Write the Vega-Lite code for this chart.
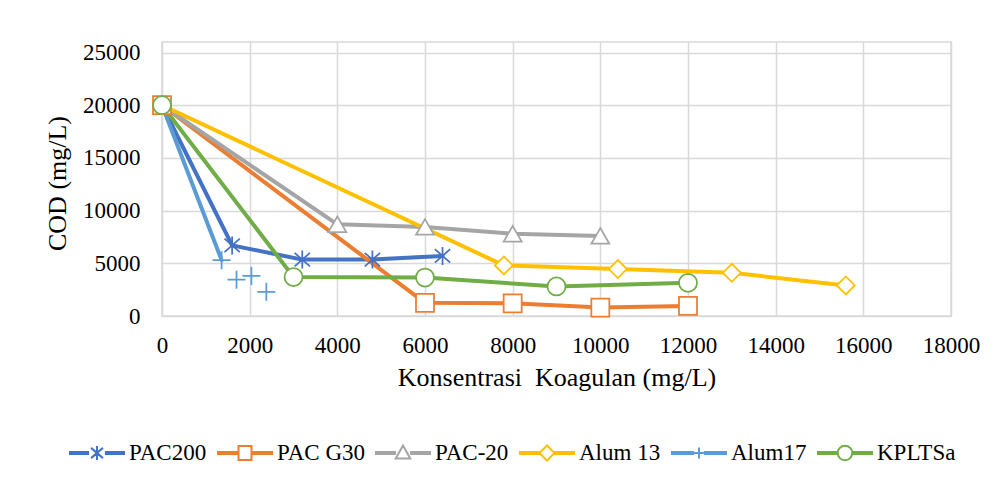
{
  "$schema": "https://vega.github.io/schema/vega-lite/v6.json",
  "width": 789,
  "height": 274,
  "autosize": {"type": "none"},
  "padding": {"left": 162, "top": 42, "right": 46, "bottom": 161},
  "background": "white",
  "data": {
    "values": [
      {"series": "PAC200", "x": 0, "y": 20000},
      {"series": "PAC200", "x": 1600, "y": 6700},
      {"series": "PAC200", "x": 3200, "y": 5350},
      {"series": "PAC200", "x": 4800, "y": 5350},
      {"series": "PAC200", "x": 6400, "y": 5700},
      {"series": "PAC G30", "x": 0, "y": 20000},
      {"series": "PAC G30", "x": 6000, "y": 1250},
      {"series": "PAC G30", "x": 8000, "y": 1200},
      {"series": "PAC G30", "x": 10000, "y": 800},
      {"series": "PAC G30", "x": 12000, "y": 950},
      {"series": "PAC-20", "x": 0, "y": 20000},
      {"series": "PAC-20", "x": 4000, "y": 8700},
      {"series": "PAC-20", "x": 6000, "y": 8450},
      {"series": "PAC-20", "x": 8000, "y": 7800},
      {"series": "PAC-20", "x": 10000, "y": 7600},
      {"series": "Alum 13", "x": 0, "y": 20000},
      {"series": "Alum 13", "x": 7800, "y": 4800},
      {"series": "Alum 13", "x": 10400, "y": 4450},
      {"series": "Alum 13", "x": 13000, "y": 4100},
      {"series": "Alum 13", "x": 15600, "y": 2900},
      {"series": "Alum17", "x": 0, "y": 20000},
      {"series": "Alum17", "x": 1360, "y": 5300},
      {"series": "Alum17", "x": 1700, "y": 3450},
      {"series": "Alum17", "x": 2040, "y": 3800},
      {"series": "Alum17", "x": 2380, "y": 2300},
      {"series": "KPLTSa", "x": 0, "y": 20000},
      {"series": "KPLTSa", "x": 3000, "y": 3700},
      {"series": "KPLTSa", "x": 6000, "y": 3650},
      {"series": "KPLTSa", "x": 9000, "y": 2800},
      {"series": "KPLTSa", "x": 12000, "y": 3150}
    ]
  },
  "resolve": {"scale": {"color": "independent", "stroke": "independent", "shape": "independent"}},
  "layer": [
    {
      "transform": [{"filter": "datum.series != 'Alum17' || datum.x < 1500"}],
      "mark": {"type": "line", "strokeWidth": 4, "strokeCap": "round", "strokeJoin": "round"},
      "encoding": {
        "x": {"field": "x", "type": "quantitative", "scale": {"domain": [0, 18000]},
          "axis": {"values": [0,2000,4000,6000,8000,10000,12000,14000,16000,18000], "format": "d", "labelOverlap": false, "labelFlush": false, "title": "Konsentrasi\u00a0 Koagulan (mg/L)", "labelPadding": 36, "labelBaseline": "alphabetic", "titleBaseline": "alphabetic", "titleY": 69}},
        "y": {"field": "y", "type": "quantitative", "scale": {"domain": [0, 25000]},
          "axis": {"values": [0,5000,10000,15000,20000,25000], "format": "d", "labelOverlap": false, "title": "COD (mg/L)", "labelPadding": 22, "titleBaseline": "alphabetic", "titleX": -97, "titleY": 141, "titleAngle": -90}},
        "color": {"field": "series", "type": "nominal",
          "scale": {"domain": ["Alum 13", "Alum17", "KPLTSa", "PAC G30", "PAC-20", "PAC200"], "range": ["#FFC000", "#5B9BD5", "#70AD47", "#ED7D31", "#A5A5A5", "#4472C4"]},
          "legend": null},
        "detail": {"field": "series"}
      }
    },
    {
      "transform": [{"filter": "datum.x > 0 || datum.series == 'PAC G30' || datum.series == 'KPLTSa'"}],
      "mark": {"type": "point", "filled": true, "fill": "white", "strokeWidth": 1.75, "size": 324, "opacity": 1},
      "encoding": {
        "x": {"field": "x", "type": "quantitative"},
        "y": {"field": "y", "type": "quantitative"},
        "stroke": {"field": "series", "type": "nominal",
          "scale": {"domain": ["PAC200", "PAC G30", "PAC-20", "Alum 13", "Alum17", "KPLTSa"], "range": ["#4472C4", "#ED7D31", "#A5A5A5", "#FFC000", "#5B9BD5", "#70AD47"]},
          "legend": null},
        "shape": {"field": "series", "type": "nominal",
          "scale": {"domain": ["PAC200", "PAC G30", "PAC-20", "Alum 13", "Alum17", "KPLTSa"],
            "range": ["M0,-1V1M-0.85,-0.75L0.85,0.75M-0.85,0.75L0.85,-0.75", "square", "triangle-up", "diamond", "M-1,0H1M0,-1V1", "circle"]},
          "legend": null}
      }
    },
    {
      "transform": [{"filter": "false"}],
      "mark": {"type": "point", "filled": true, "fill": "white", "strokeWidth": 2, "size": 2916, "opacity": 1},
      "encoding": {
        "x": {"field": "x", "type": "quantitative"},
        "y": {"field": "y", "type": "quantitative"},
        "stroke": {"field": "series", "type": "nominal",
          "scale": {"domain": ["PAC200", "PAC G30", "PAC-20", "Alum 13", "Alum17", "KPLTSa"], "range": ["#4472C4", "#ED7D31", "#A5A5A5", "#FFC000", "#5B9BD5", "#70AD47"]},
          "legend": {
            "orient": "none", "legendX": -93, "legendY": 383, "direction": "horizontal", "title": null,
            "labelFont": "Liberation Serif", "labelFontSize": 23, "labelColor": "#000", "labelOffset": 4,
            "columnPadding": 7, "padding": 0, "symbolSize": 2916, "symbolStrokeWidth": 2, "symbolFillColor": "white", "symbolOpacity": 1
          }},
        "shape": {"field": "series", "type": "nominal",
          "scale": {"domain": ["PAC200", "PAC G30", "PAC-20", "Alum 13", "Alum17", "KPLTSa"],
            "range": [
              "M-1,-0.035H-0.33V0.035H-1Z M0.33,-0.035H1V0.035H0.33Z M0,-0.26V0.26 M-0.22,-0.19L0.22,0.19 M-0.22,0.19L0.22,-0.19",
              "M-1,-0.035H-0.26V0.035H-1Z M0.26,-0.035H1V0.035H0.26Z M-0.24,-0.26H0.24V0.26H-0.24Z",
              "M-1,-0.035H-0.3V0.035H-1Z M0.3,-0.035H1V0.035H0.3Z M0,-0.28L0.27,0.2H-0.27Z",
              "M-1,-0.035H-0.3V0.035H-1Z M0.3,-0.035H1V0.035H0.3Z M0,-0.28L0.28,0L0,0.28L-0.28,0Z",
              "M-1,-0.035H-0.22V0.035H-1Z M0.22,-0.035H1V0.035H0.22Z M-0.2,0H0.2 M0,-0.2V0.2",
              "M-1,-0.035H-0.28V0.035H-1Z M0.28,-0.035H1V0.035H0.28Z M-0.27,0A0.27,0.27 0 1,0 0.27,0A0.27,0.27 0 1,0 -0.27,0Z"
            ]},
          "legend": {"title": null}}
      }
    }
  ],
  "config": {
    "font": "Liberation Serif",
    "view": {"stroke": "#d9d9d9", "strokeWidth": 1.5},
    "axis": {
      "labelFont": "Liberation Serif", "titleFont": "Liberation Serif",
      "labelFontSize": 23, "titleFontSize": 26, "titleFontWeight": "normal",
      "labelColor": "#000", "titleColor": "#000",
      "gridColor": "#d9d9d9", "gridWidth": 1.5,
      "ticks": false, "tickSize": 0, "domain": false
    }
  }
}
